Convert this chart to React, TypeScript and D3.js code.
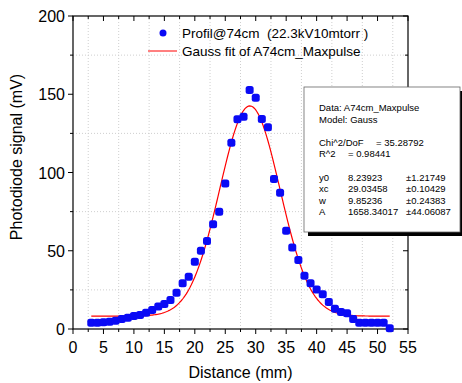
import * as d3 from "d3";

// measured profile, distance (mm) vs photodiode signal (mV)
const distance = [
  3, 4, 5, 6, 7, 8, 9, 10, 11, 12, 13, 14, 15, 16, 17, 18, 19, 20, 21, 22, 23, 24, 25, 26, 27,
  28, 29, 30, 31, 32, 33, 34, 35, 36, 37, 38, 39, 40, 41, 42, 43, 44, 45, 46, 47, 48, 49, 50, 51, 52,
];
const signal = [
  4, 4, 4.3, 4.7, 5.3, 6.4, 7.2, 8.3, 9, 10.4, 12.1, 14.3, 16, 18.5, 23.2, 29.2, 33.4, 43, 50, 56.2,
  66.9, 75, 93, 119, 134, 135.7, 152.7, 147.8, 134.2, 128.9, 95.8, 87.1, 62.8, 52, 44.1, 34.1, 29.2,
  25.3, 22.2, 17.3, 13, 10.9, 10, 6.4, 4, 4, 4, 4, 4, 0.4,
];

// Gauss fit parameters as printed in the stats box
const fitY0 = 8.23923;
const fitXc = 29.03458;
const fitW = 9.85236;
const fitA = 1658.34017;
const fitRange = [3, 52];

const xTicks = [0, 5, 10, 15, 20, 25, 30, 35, 40, 45, 50, 55];
const yTicks = [0, 50, 100, 150, 200];

const statsHeader = ["Data: A74cm_Maxpulse", "Model: Gauss"];
const statsParams = [
  ["y0", "8.23923", "±1.21749"],
  ["xc", "29.03458", "±0.10429"],
  ["w", "9.85236", "±0.24383"],
  ["A", "1658.34017", "±44.06087"],
];

export default function App() {
  const W = 462;
  const H = 383;
  const left = 73;
  const right = 408;
  const top = 16;
  const bottom = 329;

  const x = d3.scaleLinear().domain([0, 55]).range([left, right]);
  const y = d3.scaleLinear().domain([0, 200]).range([bottom, top]);

  const gauss = (v: number) =>
    fitY0 + (fitA / (fitW * Math.sqrt(Math.PI / 2))) * Math.exp((-2 * (v - fitXc) ** 2) / (fitW * fitW));
  const fitXs = d3.range(fitRange[0], fitRange[1] + 0.001, 0.2);
  const fitLine = d3
    .line<number>()
    .x((d) => x(d))
    .y((d) => y(gauss(d)));

  const xMinor = d3.range(2.5, 55, 5);
  const yMinor = d3.range(25, 200, 50);
  const font = "Arial, 'Liberation Sans', sans-serif";

  const boxX = 304;
  const boxY = 87;
  const cols = [319, 348, 406];

  return (
    <svg
      width={W}
      height={H}
      style={{ position: "absolute", left: 0, top: 0, background: "#fff" }}
      fontFamily={font}
    >
      {/* dotted grid */}
      <g stroke="#cfcfcf" strokeDasharray="1,2" strokeWidth={1}>
        {xMinor.map((v) => (
          <line key={"gx" + v} x1={x(v)} x2={x(v)} y1={top} y2={bottom} />
        ))}
        {yMinor.map((v) => (
          <line key={"gy" + v} x1={left} x2={right} y1={y(v)} y2={y(v)} />
        ))}
      </g>

      {/* frame */}
      <rect x={left} y={top} width={right - left} height={bottom - top} fill="none" stroke="#000" strokeWidth={1.2} />

      {/* ticks */}
      <g stroke="#000" strokeWidth={1}>
        {xTicks.map((v) => (
          <g key={"tx" + v}>
            <line x1={x(v)} x2={x(v)} y1={bottom} y2={bottom + 5} />
            <line x1={x(v)} x2={x(v)} y1={top} y2={top + 5} />
          </g>
        ))}
        {xMinor.map((v) => (
          <g key={"mx" + v}>
            <line x1={x(v)} x2={x(v)} y1={bottom} y2={bottom + 3} />
            <line x1={x(v)} x2={x(v)} y1={top} y2={top + 3} />
          </g>
        ))}
        {yTicks.map((v) => (
          <g key={"ty" + v}>
            <line x1={left - 5} x2={left} y1={y(v)} y2={y(v)} />
            <line x1={right - 5} x2={right} y1={y(v)} y2={y(v)} />
          </g>
        ))}
        {yMinor.map((v) => (
          <g key={"my" + v}>
            <line x1={left - 3} x2={left} y1={y(v)} y2={y(v)} />
            <line x1={right - 3} x2={right} y1={y(v)} y2={y(v)} />
          </g>
        ))}
      </g>

      {/* tick labels */}
      <g fontSize={16} fill="#000">
        {xTicks.map((v) => (
          <text key={"lx" + v} x={x(v)} y={bottom + 24} textAnchor="middle">
            {v}
          </text>
        ))}
        {yTicks.map((v) => (
          <text key={"ly" + v} x={left - 8} y={y(v) + 6} textAnchor="end">
            {v}
          </text>
        ))}
      </g>

      {/* axis titles */}
      <text x={(left + right) / 2} y={378} textAnchor="middle" fontSize={16}>
        Distance (mm)
      </text>
      <text transform={`translate(22, 157) rotate(-90)`} textAnchor="middle" fontSize={16}>
        Photodiode signal (mV)
      </text>

      {/* fit curve */}
      <path d={fitLine(fitXs) || ""} fill="none" stroke="#ff0000" strokeWidth={1.2} />

      {/* data points */}
      <g fill="#0a0af5">
        {distance.map((d, i) => (
          <rect key={i} x={x(d) - 4} y={y(signal[i]) - 4} width={8} height={8} rx={2.5} />
        ))}
      </g>

      {/* legend */}
      <g fontSize={13.5}>
        <circle cx={163} cy={33} r={3.5} fill="#0a0af5" />
        <text x={182} y={38}>
          Profil@74cm{"\u00a0\u00a0"}(22.3kV10mtorr )
        </text>
        <line x1={148} x2={177} y1={51} y2={51} stroke="#ff0000" strokeWidth={1} />
        <text x={182} y={56}>
          Gauss fit of A74cm_Maxpulse
        </text>
      </g>

      {/* stats box */}
      <rect x={boxX + 4} y={boxY + 4} width={156} height={145} fill="#000" />
      <rect x={boxX} y={boxY} width={156} height={145} fill="#fff" stroke="#666" strokeWidth={0.8} />
      <g fontSize={9.5} fill="#000">
        {statsHeader.map((t, i) => (
          <text key={"h" + i} x={cols[0]} y={111 + i * 12}>
            {t}
          </text>
        ))}
        <text x={cols[0]} y={146}>Chi^2/DoF</text>
        <text x={376} y={146}>= 35.28792</text>
        <text x={cols[0]} y={157}>R^2</text>
        <text x={cols[1]} y={157}>=  0.98441</text>
        {statsParams.map((row, i) => (
          <g key={"p" + i}>
            {row.map((t, j) => (
              <text key={j} x={cols[j]} y={181 + i * 11.4}>
                {t}
              </text>
            ))}
          </g>
        ))}
      </g>
    </svg>
  );
}
